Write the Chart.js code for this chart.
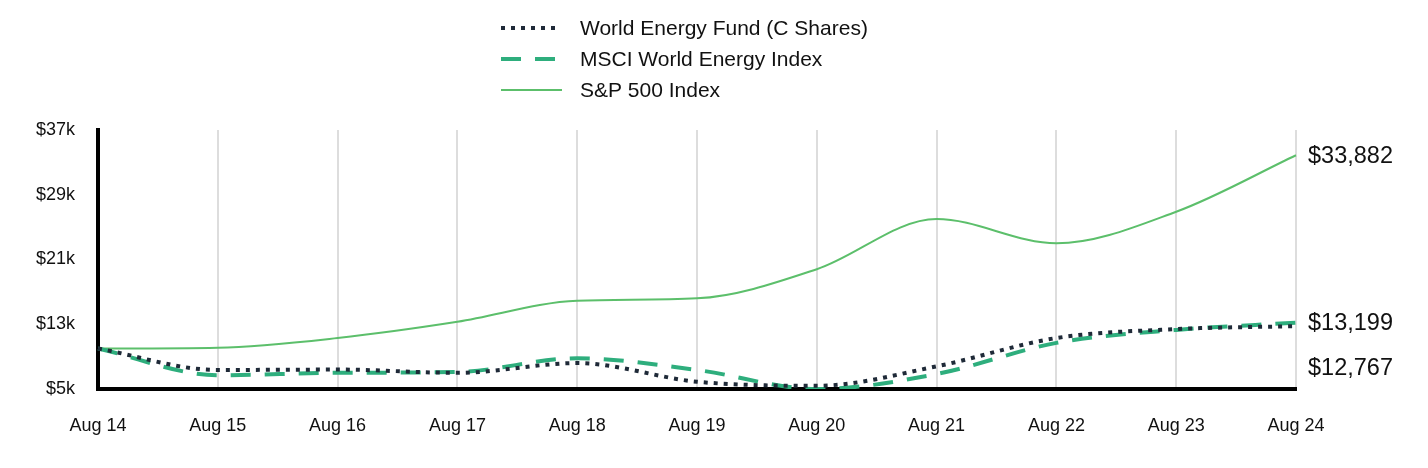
<!DOCTYPE html>
<html>
<head>
<meta charset="utf-8">
<script src="https://cdn.jsdelivr.net/npm/chart.js@4.4.0/dist/chart.umd.min.js"></script>
<style>
    html, body { margin: 0; padding: 0; background: #fff; }
    #wrap { width: 1428px; height: 468px; position: relative; }
</style>
</head>
<body>
<div id="wrap"><canvas id="growthChart"></canvas></div>
<script>
// Growth of $10,000
const labels = ['Aug 14', 'Aug 15', 'Aug 16', 'Aug 17', 'Aug 18', 'Aug 19', 'Aug 20', 'Aug 21', 'Aug 22', 'Aug 23', 'Aug 24'];
const fundValues = [10000, 7350, 7400, 7000, 8200, 5900, 5400, 7800, 11300, 12400, 12767];
const msciValues = [10000, 6700, 7000, 7100, 8800, 7350, 5000, 6850, 10700, 12300, 13199];
const spValues = [10000, 10100, 11300, 13300, 15900, 16200, 19800, 26000, 23000, 26900, 33882];
const yTicks = [5000, 13000, 21000, 29000, 37000];

const FONT = "'Liberation Sans', Arial, sans-serif";

// Custom vertical legend at top
const topLegend = {
    id: 'topLegend',
    afterDraw(chart) {
        const ctx = chart.ctx;
        ctx.save();
        chart.data.datasets.forEach(function(ds, i) {
            const y = 28 + i * 31;
            ctx.beginPath();
            ctx.strokeStyle = ds.borderColor;
            ctx.lineWidth = ds.borderWidth;
            ctx.setLineDash(ds.borderDash || []);
            ctx.lineCap = 'butt';
            ctx.moveTo(501, y);
            ctx.lineTo(ds.borderDash ? 558 : 562, y);
            ctx.stroke();
            ctx.setLineDash([]);
            ctx.fillStyle = '#111';
            ctx.font = '21px ' + FONT;
            ctx.textBaseline = 'middle';
            ctx.textAlign = 'left';
            ctx.fillText(ds.label, 580, y + 1);
        });
        ctx.restore();
    }
};

// End-of-line value labels on the right
const endLabels = {
    id: 'endLabels',
    afterDraw(chart) {
        const ctx = chart.ctx;
        const yScale = chart.scales.y;
        const items = chart.data.datasets.map(function(ds) {
            const v = ds.data[ds.data.length - 1];
            return { v: v, y: yScale.getPixelForValue(v) };
        }).sort((a, b) => a.y - b.y);
        for (let i = 1; i < items.length; i++) {
            if (items[i].y - items[i - 1].y < 45) {
                items[i].y = items[i - 1].y + 45;
            }
        }
        ctx.save();
        ctx.fillStyle = '#111';
        ctx.font = '23.5px ' + FONT;
        ctx.textBaseline = 'middle';
        ctx.textAlign = 'left';
        items.forEach(function(it) {
            ctx.fillText('$' + it.v.toLocaleString('en-US'), chart.chartArea.right + 12, it.y + 1);
        });
        ctx.restore();
    }
};

new Chart(document.getElementById('growthChart'), {
    type: 'line',
    data: {
        labels: labels,
        datasets: [{
            label: 'World Energy Fund (C Shares)',
            data: fundValues,
            borderColor: '#1f2a38',
            borderWidth: 4,
            borderDash: [4, 6],
            cubicInterpolationMode: 'monotone',
            pointRadius: 0,
            fill: false
        }, {
            label: 'MSCI World Energy Index',
            data: msciValues,
            borderColor: '#2eae7d',
            borderWidth: 4,
            borderDash: [20, 14],
            cubicInterpolationMode: 'monotone',
            pointRadius: 0,
            fill: false
        }, {
            label: 'S&P 500 Index',
            data: spValues,
            borderColor: '#5cbf6b',
            borderWidth: 2,
            cubicInterpolationMode: 'monotone',
            pointRadius: 0,
            fill: false
        }]
    },
    options: {
        responsive: true,
        maintainAspectRatio: false,
        animation: false,
        layout: {
            padding: { top: 130, right: 132, left: 0, bottom: 0 }
        },
        plugins: {
            legend: { display: false },
            tooltip: { enabled: false }
        },
        scales: {
            x: {
                grid: {
                    color: '#dddddd',
                    lineWidth: 2,
                    tickLength: 0
                },
                border: { color: '#000', width: 4 },
                ticks: {
                    color: '#111',
                    padding: 26,
                    maxRotation: 0,
                    font: { family: FONT, size: 18 }
                },
                afterFit: function(scale) { scale.height = 79; }
            },
            y: {
                min: 5000,
                max: 37000,
                grid: { display: false },
                border: { color: '#000', width: 4 },
                afterBuildTicks: function(scale) {
                    scale.ticks = yTicks.map(v => ({ value: v }));
                },
                ticks: {
                    color: '#111',
                    padding: 15,
                    font: { family: FONT, size: 18 },
                    callback: function(value) {
                        return '$' + (value / 1000) + 'k';
                    }
                },
                afterFit: function(scale) { scale.width = 98; }
            }
        }
    },
    plugins: [topLegend, endLabels]
});
</script>
</body>
</html>
